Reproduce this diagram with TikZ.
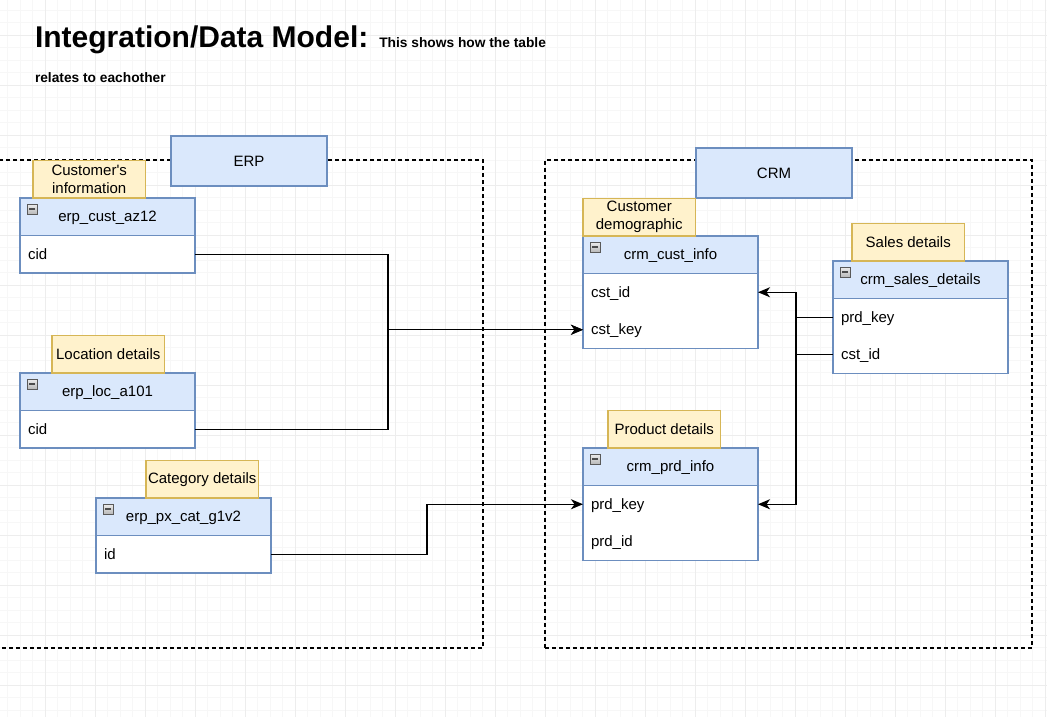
\documentclass[tikz,border=0pt]{standalone}
\usepackage{fontspec}
\setmainfont{Liberation Sans}
\usetikzlibrary{arrows.meta, positioning}

\definecolor{headblue}{HTML}{DAE8FC}
\definecolor{edgeblue}{HTML}{6C8EBF}
\definecolor{notefill}{HTML}{FFF2CC}
\definecolor{noteedge}{HTML}{D6B656}

\begin{document}
\begin{tikzpicture}[
        x=1pt, y=-1pt,
        every node/.style={font=\fontsize{15}{18}\selectfont, outer sep=0pt},
        minorgrid/.style={gray!6, line width=1pt},
        majorgrid/.style={gray!14, line width=1pt},
        area/.style={rectangle, draw, line width=1.25pt, dash pattern=on 4pt off 3pt, anchor=north west, inner sep=0pt},
        system/.style={rectangle, draw=edgeblue, fill=headblue, line width=1.25pt, minimum width=156pt, minimum height=50pt, text height=10.4pt, text depth=0pt, anchor=north west},
        tablehead/.style={rectangle, draw=edgeblue, fill=headblue, line width=1.25pt, minimum width=175pt, minimum height=37.5pt, inner sep=0pt, text height=10.4pt, text depth=0pt, anchor=north west},
        tablerow/.style={rectangle, fill=white, text width=159pt, inner xsep=8pt, inner ysep=0pt, minimum height=37.5pt, text height=10.4pt, text depth=0pt, align=left},
        tableline/.style={draw=edgeblue, line width=1.25pt},
        note/.style={rectangle, draw=noteedge, fill=notefill, line width=1.25pt, minimum width=112.5pt, minimum height=37.5pt, inner sep=0pt, align=center},
        minus/.style={rectangle, draw=gray!70!black, top color=gray!15, bottom color=gray!55, minimum size=10pt, inner sep=0pt,
            path picture={\draw[line width=1.5pt, black!70] ([xshift=2pt]path picture bounding box.west) -- ([xshift=-2pt]path picture bounding box.east);}},
        link/.style={-{Stealth[length=12pt, width=10pt, inset=3.5pt]}, line width=1.4pt}
    ]
    % Canvas and grid
    \useasboundingbox (0,0) rectangle (1047,717);
    \fill[white] (0,0) rectangle (1047,717);
    \foreach \gx in {7.8,20.3,...,1047} \draw[minorgrid] (\gx,0) -- (\gx,717);
    \foreach \gy in {10.3,22.8,...,717} \draw[minorgrid] (0,\gy) -- (1047,\gy);
    \foreach \gx in {45.3,95.3,...,1047} \draw[majorgrid] (\gx,0) -- (\gx,717);
    \foreach \gy in {35.3,85.3,...,717} \draw[majorgrid] (0,\gy) -- (1047,\gy);

    % Title
    \node[anchor=base west, inner sep=0pt, font=\bfseries\fontsize{30}{36}\selectfont] (title) at (35,48) {Integration/Data Model:};
    \node[base right=11pt of title.base east, inner sep=0pt, font=\bfseries\fontsize{13.75}{16}\selectfont] (subtitle) {This shows how the table};
    \node[anchor=base west, inner sep=0pt, font=\bfseries\fontsize{13.75}{16}\selectfont] (subtitletwo) at (35,83) {relates to eachother};

    % Source areas
    \node[area, minimum width=488pt, minimum height=488pt] (erparea) at (-5,160) {};
    \node[area, minimum width=487pt, minimum height=488pt] (crmarea) at (545,160) {};
    \node[system] (erp) at (171,136) {ERP};
    \node[system] (crm) at (696,148) {CRM};

    % ERP tables
    \node[tablehead] (custhead) at (20,198) {erp\_cust\_az12};
    \node[tablerow, below=0pt of custhead] (custcid) {cid};
    \draw[tableline] (custhead.south west) rectangle (custcid.south east);
    \node[note, above right=0pt and 13pt of custhead.north west] (custlbl) {Customer\textquotesingle s\\information};

    \node[tablehead] (lochead) at (20,373) {erp\_loc\_a101};
    \node[tablerow, below=0pt of lochead] (loccid) {cid};
    \draw[tableline] (lochead.south west) rectangle (loccid.south east);
    \node[note, above right=0pt and 32pt of lochead.north west] (loclbl) {Location details};

    \node[tablehead] (cathead) at (96,498) {erp\_px\_cat\_g1v2};
    \node[tablerow, below=0pt of cathead] (catid) {id};
    \draw[tableline] (cathead.south west) rectangle (catid.south east);
    \node[note, above right=0pt and 50pt of cathead.north west] (catlbl) {Category details};

    % CRM tables
    \node[tablehead] (cinfohead) at (583,236) {crm\_cust\_info};
    \node[tablerow, below=0pt of cinfohead] (cinfoid) {cst\_id};
    \node[tablerow, below=0pt of cinfoid] (cinfokey) {cst\_key};
    \draw[tableline] (cinfohead.south west) rectangle (cinfokey.south east);
    \node[note, above right=0pt and 0pt of cinfohead.north west] (cinfolbl) {Customer\\demographic};

    \node[tablehead] (saleshead) at (833,261) {crm\_sales\_details};
    \node[tablerow, below=0pt of saleshead] (salesprd) {prd\_key};
    \node[tablerow, below=0pt of salesprd] (salescst) {cst\_id};
    \draw[tableline] (saleshead.south west) rectangle (salescst.south east);
    \node[note, above right=0pt and 19pt of saleshead.north west] (saleslbl) {Sales details};

    \node[tablehead] (prdhead) at (583,448) {crm\_prd\_info};
    \node[tablerow, below=0pt of prdhead] (prdkey) {prd\_key};
    \node[tablerow, below=0pt of prdkey] (prdid) {prd\_id};
    \draw[tableline] (prdhead.south west) rectangle (prdid.south east);
    \node[note, above right=0pt and 25pt of prdhead.north west] (prdlbl) {Product details};

    % Collapse icons
    \node[minus, below right=6pt and 7pt of custhead.north west] (custicon) {};
    \node[minus, below right=6pt and 7pt of lochead.north west] (locicon) {};
    \node[minus, below right=6pt and 7pt of cathead.north west] (caticon) {};
    \node[minus, below right=6pt and 7pt of cinfohead.north west] (cinfoicon) {};
    \node[minus, below right=6pt and 7pt of saleshead.north west] (salesicon) {};
    \node[minus, below right=6pt and 7pt of prdhead.north west] (prdicon) {};

    % Relations
    \draw[link] (custcid.east) -- ++(193,0) |- (cinfokey.west);
    \draw[link] (loccid.east) -- ++(193,0) |- (cinfokey.west);
    \draw[link] (catid.east) -- ++(156,0) |- (prdkey.west);
    \draw[link] (salesprd.west) -- ++(-37,0) |- (prdkey.east);
    \draw[link] (salescst.west) -- ++(-37,0) |- (cinfoid.east);
\end{tikzpicture}
\end{document}
